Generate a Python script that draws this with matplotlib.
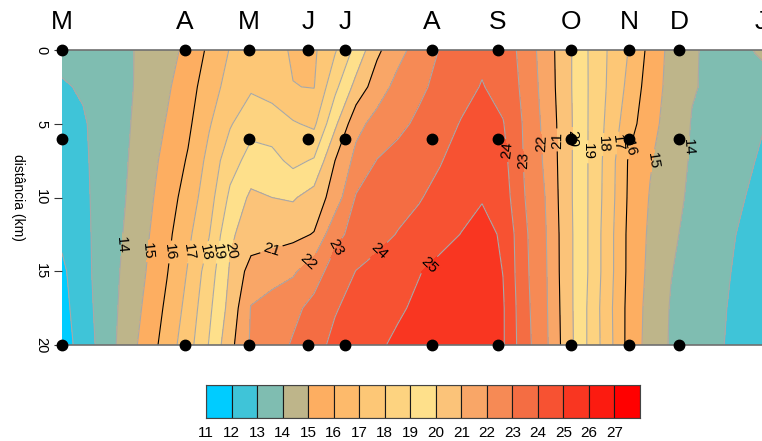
import numpy as np
import matplotlib.pyplot as plt
from matplotlib import transforms

plt.rcParams['font.family'] = ['Liberation Sans', 'DejaVu Sans']

# sampling campaigns (days after the first one) and month initials on top
sample_day = [0, 58.6, 89, 117.1, 134.8, 176.2, 207.6, 242.4, 270, 293.8]
month_day = sample_day + [333]
month_lbl = ['M', 'A', 'M', 'J', 'J', 'A', 'S', 'O', 'N', 'D', 'J']
# stations along the transect (km); campaign 1 missed the 6 km one
station_km = [0, 6, 20]
missing_6km = [1]

# temperature (degC) on a regular day x distance grid
grid_day = np.arange(0, 341, 10)
grid_km = [0, 2.5, 5, 7.5, 10, 12.5, 15, 17.5, 20]
t_0 = [13.3, 13.5, 13.7, 13.85, 14.2, 14.65, 15.25, 16.2, 17.05, 17.4, 17.3, 16.9, 16.85, 17.9, 19.3, 20.8, 21.7, 22.4, 23.05, 23.5, 23.8, 23.6, 22.65, 21.55, 20.35, 19.05, 17.95, 16.95, 15.7, 14.7, 14.1, 13.8, 13.75, 14.02, 14.3]
t_2 = [12.9, 13.1, 13.45, 13.8, 14.3, 14.85, 15.6, 16.5, 17.4, 17.85, 17.6, 17.02, 16.97, 18.75, 20.33, 21.53, 22.31, 22.8, 23.27, 23.7, 24.05, 23.68, 22.79, 21.62, 20.35, 19.06, 17.9, 16.73, 15.5, 14.68, 14.06, 13.85, 13.8, 13.8, 13.85]
t_5 = [12.5, 12.9, 13.4, 13.85, 14.4, 15.07, 15.8, 16.9, 17.9, 18.7, 18.5, 18.1, 17.8, 19.8, 21.7, 22.34, 22.76, 23.19, 23.62, 24.05, 24.4, 24.05, 22.9, 21.75, 20.4, 19.06, 17.76, 16.4, 15.33, 14.58, 13.95, 13.6, 13.35, 13.1, 12.9]
t_7 = [12.4, 12.85, 13.38, 13.9, 14.57, 15.3, 16.1, 17.3, 18.6, 19.35, 19.3, 18.75, 19.1, 21.0, 22.3, 23.03, 23.34, 23.64, 23.94, 24.4, 24.7, 24.3, 22.95, 21.86, 20.4, 19.06, 17.6, 15.88, 15.08, 14.42, 13.9, 13.6, 13.3, 13.0, 12.75]
t_10 = [12.4, 12.8, 13.39, 13.97, 14.71, 15.5, 16.45, 17.58, 19.2, 20.2, 20.0, 19.9, 20.4, 21.45, 23.08, 23.36, 23.65, 23.93, 24.3, 24.65, 24.95, 24.5, 23.05, 22.0, 20.4, 19.06, 17.55, 15.83, 14.94, 14.3, 13.83, 13.5, 13.17, 12.85, 12.6]
t_12 = [12.2, 12.75, 13.4, 14.07, 14.85, 15.74, 16.79, 17.95, 19.85, 20.45, 20.6, 20.75, 21.05, 22.75, 23.3, 23.68, 24.05, 24.33, 24.66, 25.02, 25.25, 24.9, 23.2, 22.1, 20.45, 19.06, 17.45, 15.75, 14.84, 14.16, 13.73, 13.38, 13.03, 12.7, 12.4]
t_15 = [11.8, 12.7, 13.43, 14.19, 15.0, 15.95, 17.07, 18.5, 20.1, 21.4, 21.6, 21.85, 22.6, 23.4, 24.02, 24.33, 24.64, 24.95, 25.3, 25.55, 25.55, 24.98, 23.25, 22.15, 20.45, 19.06, 17.45, 15.74, 14.76, 14.03, 13.66, 13.3, 12.95, 12.6, 12.3]
t_17 = [11.65, 12.58, 13.44, 14.29, 15.19, 16.2, 17.33, 18.79, 20.33, 22.05, 22.4, 22.78, 23.26, 23.94, 24.27, 24.56, 24.86, 25.2, 25.5, 25.8, 25.75, 25.1, 23.33, 22.2, 20.5, 18.98, 17.35, 15.67, 14.65, 13.93, 13.58, 13.23, 12.88, 12.55, 12.25]
t_20 = [11.5, 12.44, 13.41, 14.43, 15.4, 16.45, 17.6, 19.05, 20.7, 22.13, 22.6, 23.09, 23.73, 24.19, 24.52, 24.84, 25.2, 25.6, 25.95, 25.85, 25.6, 25.1, 23.4, 22.25, 20.55, 18.98, 17.4, 15.65, 14.6, 13.9, 13.53, 13.17, 12.85, 12.5, 12.2]

levels = np.arange(11, 29)
palette = ['#00CCFF', '#3FC4D8', '#7FBDB1', '#BEB58A', '#FDAE61', '#FDBA6B',
           '#FDC776', '#FDD380', '#FEE08B', '#FBC379', '#F9A667', '#F68A55',
           '#F46D43', '#F75232', '#F93621', '#FC1B10', '#FF0000']

# where each isotherm gets its number (day, km)
label_pos = [(14, 27.6, 13.2), (15, 41, 13.6), (16, 52, 13.7), (17, 61, 13.7),
             (18, 68, 13.7), (19, 74, 13.7), (20, 80, 13.6), (21, 99, 13.2),
             (22, 119, 14.6), (23, 130, 13.4), (24, 153, 13.9), (25, 175, 14.6),
             (24, 213, 6.8), (23, 219.5, 7.5), (22, 227.6, 6.3), (21, 234.8, 6.1),
             (20, 242, 6.0), (19, 249, 6.9), (18, 256.7, 6.4), (17, 264, 6.3),
             (16, 269.5, 6.6), (15, 281, 7.5), (14, 297, 6.6)]

temp = np.array([t_0, t_2, t_5, t_7, t_10, t_12, t_15, t_17, t_20])
X, Y = np.meshgrid(grid_day, grid_km)

fig = plt.figure(figsize=(7.62, 4.41), dpi=100)
ax = fig.add_axes([62 / 762, 1 - 345 / 441, 700 / 762, 295 / 441])

ax.contourf(X, Y, temp, levels=levels, colors=palette)

# one line set per isotherm so each can be labelled on its own
for lv in levels[:-1]:
    col = 'black' if lv % 5 == 1 else '#a8a8a8'
    cs = ax.contour(X, Y, temp, levels=[lv], colors=col, linewidths=0.8)
    spots = [(lx, ly) for l, lx, ly in label_pos if l == lv]
    if spots and len(cs.allsegs[0]):
        ax.clabel(cs, manual=spots, inline=True, inline_spacing=3,
                  fmt='%d', fontsize=11, colors='black')

# sampling points
for km in station_km:
    days = [d for i, d in enumerate(sample_day) if not (km == 6 and i in missing_6km)]
    ax.plot(days, [km] * len(days), 'o', color='black', ms=7.5, clip_on=False, zorder=6)

ax.set_xlim(0, 333.3)
ax.set_ylim(20, 0)
ax.set_xticks([])
ax.set_yticks([0, 5, 10, 15, 20])
ax.set_yticklabels(['0', '5', '10', '15', '20'], rotation=-90, va='center', ha='right')
ax.tick_params(axis='y', length=6, width=0.8, color='#333333', labelsize=10.5, pad=4)
for side in ['left', 'right']:
    ax.spines[side].set_visible(False)
for side in ['top', 'bottom']:
    ax.spines[side].set_color('#707070')
    ax.spines[side].set_linewidth(1.2)

trans = transforms.blended_transform_factory(ax.transData, ax.transAxes)
for d, m in zip(month_day, month_lbl):
    ax.text(d, 1.095, m, transform=trans, ha='center', va='center', fontsize=19, clip_on=False)

fig.text(18 / 762, 1 - 197 / 441, 'distância (km)', rotation=-90, ha='center', va='center', fontsize=10)

# colour key
cax = fig.add_axes([206 / 762, 1 - 418 / 441, 434 / 762, 33 / 441])
cax.bar(levels[:-1], 1, width=1, align='edge', color=palette, edgecolor='#1a1a1a', linewidth=0.8)
cax.set_xlim(11, 28)
cax.set_ylim(0, 1)
cax.set_yticks([])
cax.set_xticks(levels[:-1])
cax.tick_params(axis='x', length=0, pad=6, labelsize=11)
for s in cax.spines.values():
    s.set_color('#444444')

fig.savefig('out.png', dpi=100)
